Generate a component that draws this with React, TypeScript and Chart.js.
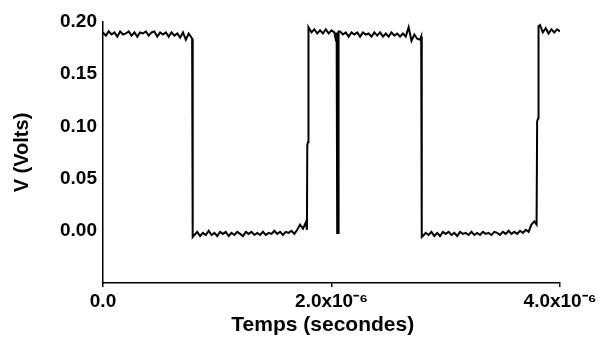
import React, { useEffect, useRef } from 'react';
import { Chart, registerables } from 'chart.js';

Chart.register(...registerables);

const timeUs = [
  // high level 1
  0, 0.025, 0.05, 0.075, 0.1, 0.125, 0.15, 0.175, 0.2, 0.225, 0.25, 0.275, 0.3, 0.325, 0.35, 0.375,
  0.4, 0.425, 0.45, 0.475, 0.5, 0.525, 0.55, 0.575, 0.6, 0.625, 0.65, 0.675, 0.7, 0.725, 0.75, 0.775,
  // fall
  0.78, 0.785,
  // low level 1
  0.8, 0.825, 0.85, 0.875, 0.9, 0.925, 0.95, 0.975, 1, 1.025, 1.05, 1.075, 1.1, 1.125, 1.15, 1.175,
  1.2, 1.225, 1.25, 1.275, 1.3, 1.325, 1.35, 1.375, 1.4, 1.425, 1.45, 1.475, 1.5, 1.525, 1.55, 1.575,
  1.6, 1.625, 1.65, 1.675, 1.7, 1.725, 1.75, 1.775,
  // rise (with step)
  1.785, 1.788, 1.795, 1.797,
  // high level 2
  1.8, 1.825, 1.85, 1.875, 1.9, 1.925, 1.95, 1.975, 2, 2.025, 2.04, 2.045,
  // narrow dip
  2.05, 2.058, 2.062,
  // high level 3
  2.075, 2.1, 2.125, 2.15, 2.175, 2.2, 2.225, 2.25, 2.275, 2.3, 2.325, 2.35, 2.375, 2.4, 2.425, 2.45,
  2.475, 2.5, 2.525, 2.55, 2.575, 2.6, 2.625, 2.65, 2.675, 2.7, 2.725, 2.75, 2.775,
  // fall
  2.785, 2.79,
  // low level 2
  2.8, 2.825, 2.85, 2.875, 2.9, 2.925, 2.95, 2.975, 3, 3.025, 3.05, 3.075, 3.1, 3.125, 3.15, 3.175,
  3.2, 3.225, 3.25, 3.275, 3.3, 3.325, 3.35, 3.375, 3.4, 3.425, 3.45, 3.475, 3.5, 3.525, 3.55, 3.575,
  3.6, 3.625, 3.65, 3.675, 3.7, 3.725, 3.75, 3.775,
  // rise (with step)
  3.795, 3.8, 3.81, 3.812,
  // high level 4
  3.825, 3.85, 3.875, 3.9, 3.925, 3.95, 3.975, 4,
];

const volts = [
  // high level 1
  0.190, 0.187, 0.191, 0.188, 0.190, 0.186, 0.191, 0.188, 0.189, 0.191, 0.187, 0.190, 0.186, 0.190, 0.189, 0.191,
  0.187, 0.190, 0.191, 0.186, 0.190, 0.188, 0.190, 0.186, 0.190, 0.187, 0.189, 0.185, 0.190, 0.183, 0.189, 0.185,
  // fall
  0.184, -0.006,
  // low level 1
  -0.004, -0.001, -0.005, -0.002, -0.004, 0.000, -0.004, -0.002, -0.005, -0.001, -0.003, -0.001, -0.005, -0.002, -0.004, -0.001,
  -0.003, -0.005, -0.001, -0.003, -0.001, -0.004, -0.002, -0.004, -0.001, -0.004, -0.002, -0.003, 0.000, -0.003, -0.001, -0.004,
  -0.001, -0.002, 0.000, -0.003, 0.001, 0.006, 0.002, 0.008,
  // rise (with step)
  0.001, 0.082, 0.085, 0.193,
  // high level 2
  0.195, 0.190, 0.193, 0.189, 0.192, 0.189, 0.193, 0.189, 0.192, 0.190, 0.182, 0.190,
  // narrow dip
  -0.002, -0.002, 0.191,
  // high level 3
  0.191, 0.188, 0.190, 0.186, 0.190, 0.188, 0.190, 0.186, 0.190, 0.188, 0.189, 0.186, 0.190, 0.187, 0.190, 0.186,
  0.189, 0.186, 0.190, 0.187, 0.189, 0.186, 0.189, 0.186, 0.195, 0.182, 0.188, 0.184, 0.183,
  // fall
  0.186, -0.006,
  // low level 2
  -0.005, -0.002, -0.004, -0.001, -0.005, -0.002, -0.005, -0.001, -0.003, -0.001, -0.004, -0.002, -0.005, -0.001, -0.003, -0.002,
  -0.004, -0.001, -0.004, -0.002, -0.004, -0.001, -0.003, -0.002, -0.004, -0.001, -0.002, -0.004, -0.001, -0.003, 0.000, -0.003,
  -0.001, -0.003, 0.000, -0.002, 0.001, -0.001, 0.006, 0.009,
  // rise (with step)
  0.006, 0.105, 0.108, 0.196,
  // high level 4
  0.197, 0.190, 0.194, 0.189, 0.193, 0.190, 0.193, 0.191,
];

const xTickValues = [0, 2e-6, 4e-6];
const xTickLabels = ['0.0', '2.0x10\u207B\u2076', '4.0x10\u207B\u2076'];
const yTickValues = [0, 0.05, 0.1, 0.15, 0.2];
const yTickLabels = ['0.00', '0.05', '0.10', '0.15', '0.20'];

const FONT = '"Liberation Sans", Arial, Helvetica, sans-serif';

export default function App() {
  const canvasRef = useRef<HTMLCanvasElement | null>(null);

  useEffect(() => {
    const canvas = canvasRef.current;
    if (!canvas) return;
    const chart = new Chart(canvas, {
      type: 'line',
      data: {
        datasets: [
          {
            data: timeUs.map((t, i) => ({ x: t * 1e-6, y: volts[i] })),
            borderColor: '#000',
            borderWidth: 2,
            pointRadius: 0,
            tension: 0,
            fill: false,
          },
        ],
      },
      options: {
        animation: false,
        responsive: false,
        events: [],
        layout: { padding: { top: 22, right: 47, left: 0, bottom: 0 } },
        plugins: { legend: { display: false }, tooltip: { enabled: false } },
        scales: {
          x: {
            type: 'linear',
            min: 0,
            max: 4e-6,
            afterBuildTicks: (s: any) => {
              s.ticks = xTickValues.map((v) => ({ value: v }));
            },
            afterFit: (s: any) => {
              s.height = 58;
            },
            ticks: {
              autoSkip: false,
              maxRotation: 0,
              padding: 3,
              color: '#000',
              font: { family: FONT, size: 19, weight: 'bold' },
              callback: (_v: any, i: number) => xTickLabels[i],
            },
            grid: {
              drawOnChartArea: false,
              drawTicks: true,
              tickLength: 4,
              color: '#000',
              lineWidth: 1.5,
            },
            border: { display: true, color: '#000', width: 1.5 },
            title: {
              display: true,
              text: 'Temps (secondes)   ',
              color: '#000',
              font: { family: FONT, size: 21, weight: 'bold' },
              padding: { top: 0, bottom: 3 },
            },
          },
          y: {
            type: 'linear',
            min: -0.05,
            max: 0.2,
            afterBuildTicks: (s: any) => {
              s.ticks = yTickValues.map((v) => ({ value: v }));
            },
            afterFit: (s: any) => {
              s.width = 103;
            },
            ticks: {
              padding: 6,
              color: '#000',
              font: { family: FONT, size: 19, weight: 'bold' },
              callback: (_v: any, i: number) => yTickLabels[i],
            },
            grid: {
              drawOnChartArea: false,
              drawTicks: false,
              color: '#000',
            },
            border: { display: true, color: '#000', width: 1.5 },
            title: {
              display: true,
              text: 'V (Volts)',
              color: '#000',
              font: { family: FONT, size: 20, weight: 'bold' },
              padding: { top: 10, bottom: 0 },
            },
          },
        },
      },
    });
    return () => chart.destroy();
  }, []);

  return (
    <div style={{ position: 'fixed', left: 0, top: 0, width: 607, height: 341, background: '#fff' }}>
      <canvas ref={canvasRef} width={607} height={341} style={{ display: 'block' }} />
    </div>
  );
}
